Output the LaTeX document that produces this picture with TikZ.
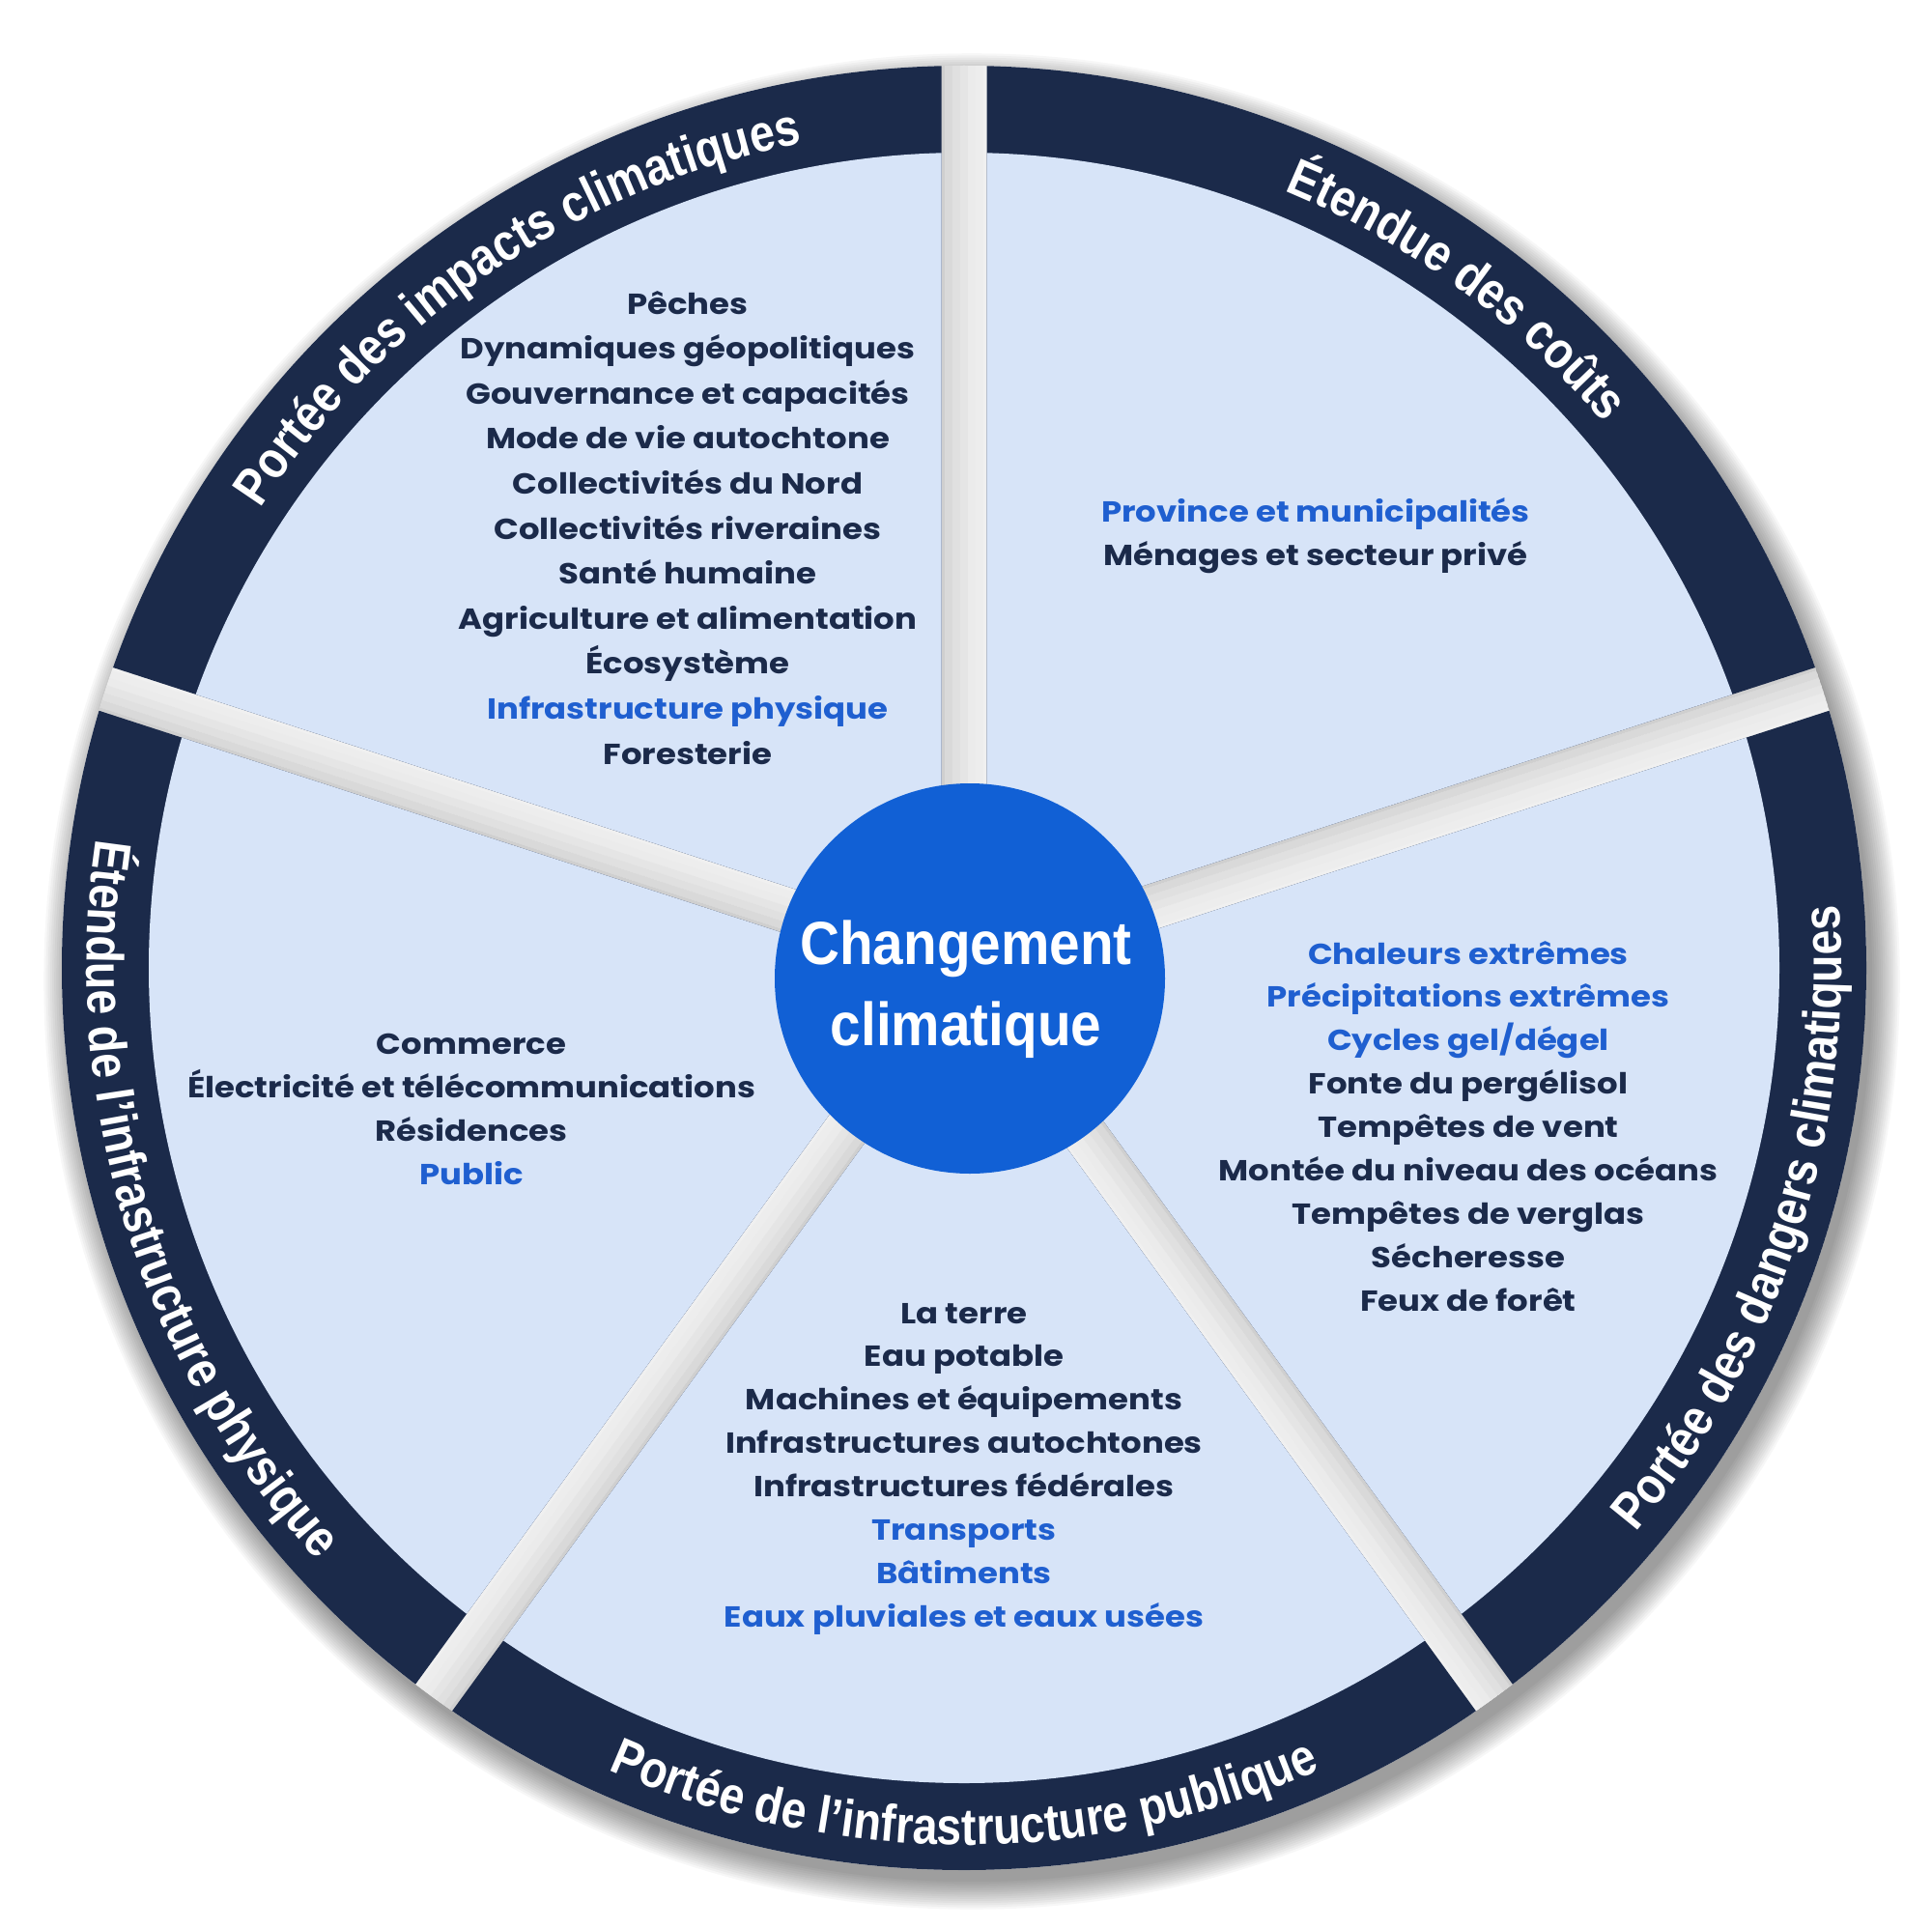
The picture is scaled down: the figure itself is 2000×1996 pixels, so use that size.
\documentclass[tikz,border=0pt]{standalone}
\usepackage{fontspec}
\usetikzlibrary{decorations.text}
\newfontfamily\itemfont{Poppins}[FakeStretch=1.13]
\newfontfamily\condfont{Liberation Sans}[FakeStretch=0.9]
\newfontfamily\lblfont{Liberation Sans}[FakeStretch=0.86]
\definecolor{cband}{HTML}{1B2A4A}
\definecolor{cwedge}{HTML}{D7E4F8}
\definecolor{ccore}{HTML}{1160D5}
\definecolor{cink}{HTML}{1B2A4A}
\definecolor{caccent}{HTML}{1F5FD0}
\newcommand\labelfmt{\lblfont\bfseries\fontsize{54}{54}\selectfont}
\begin{document}
\begin{tikzpicture}[x=1pt,y=1pt,
  item/.style={font=\itemfont\bfseries\fontsize{30}{35}\selectfont, text=cink, anchor=base, inner sep=0pt},
  hl/.style={item, text=caccent},
  lbl/.style={decorate, decoration={text along path, text={|\labelfmt|#1}, text align=center, text color=white}},
  coretext/.style={font=\condfont\bfseries\fontsize{63}{70}\selectfont, text=white, anchor=base, inner sep=0pt}]
\fill[white] (0,0) rectangle (2000,-1996);
\useasboundingbox (0,0) rectangle (2000,-1996);
\begin{scope}[shift={(998,-1002)}]
  % soft shadow
  \foreach \i in {1,...,14} \fill[black,opacity=0.03] (8,-14) circle ({930+2.2*\i});
  % base disc and gaps
  \begin{scope}
    \clip (0,0) circle (934);
    \fill[black!6] (0,0) circle (934);
    \foreach \g in {90,18,-54,-126,162}{
      \foreach \o/\c in {-28/6,-20/7,-12/8,-4/10,4/12,12/15,20/19}{
        \fill[black!\c, rotate=\g] (0,\o) rectangle (960,\o+8);
      }
    }
  \end{scope}
  % dark bands
  \begin{scope}
    \clip (0,0) circle (934);
    \foreach \a in {54,-18,-90,-162,126}{
      \fill[cband] (\a:40) -- ++({\a-36}:1300) arc[start angle={\a-36}, end angle={\a+36}, radius=1300] -- cycle;
    }
  \end{scope}
  % light wedges
  \begin{scope}
    \clip (0,0) circle (844);
    \foreach \a in {54,-18,-90,-162,126}{
      \fill[cwedge] (\a:40) -- ++({\a-36}:1300) arc[start angle={\a-36}, end angle={\a+36}, radius=1300] -- cycle;
    }
  \end{scope}
  % curved labels
  \begin{scope}
  \labelfmt
  \path[lbl={Portée des impacts climatiques}] (164:870) arc[start angle=164, end angle=84, radius=870];
  \path[lbl={Étendue des coûts}] (94:870) arc[start angle=94, end angle=14, radius=870];
  \path[lbl={Portée des dangers climatiques}] (-58:908) arc[start angle=-58, end angle=22, radius=908];
  \path[lbl={Portée de l’infrastructure publique}] (-130:908) arc[start angle=-130, end angle=-50, radius=908];
  \path[lbl={Étendue de l’infrastructure physique}] (157:908) arc[start angle=157, end angle=237, radius=908];
  \end{scope}
\end{scope}
% centre
\node[circle, fill=ccore, minimum size=404pt, inner sep=0pt] (core) at (1004,-1013) {};
\node[coretext] (core1) at (1000,-998) {Changement};
\node[coretext] (core2) at (1000,-1082) {climatique};
% top-left list
\node[item] (tl1) at (712,-325) {Pêches};
\node[item] (tl2) at (712,-371.6) {Dynamiques géopolitiques};
\node[item] (tl3) at (712,-418.2) {Gouvernance et capacités};
\node[item] (tl4) at (712,-464.8) {Mode de vie autochtone};
\node[item] (tl5) at (712,-511.4) {Collectivités du Nord};
\node[item] (tl6) at (712,-558) {Collectivités riveraines};
\node[item] (tl7) at (712,-604.6) {Santé humaine};
\node[item] (tl8) at (712,-651.2) {Agriculture et alimentation};
\node[item] (tl9) at (712,-697.8) {Écosystème};
\node[hl] (tl10) at (712,-744.4) {Infrastructure physique};
\node[item] (tl11) at (712,-791) {Foresterie};
% top-right list
\node[hl] (tr1) at (1362,-540) {Province et municipalités};
\node[item] (tr2) at (1362,-585) {Ménages et secteur privé};
% right list
\node[hl] (rt1) at (1520,-998) {Chaleurs extrêmes};
\node[hl] (rt2) at (1520,-1042.9) {Précipitations extrêmes};
\node[hl] (rt3) at (1520,-1087.8) {Cycles gel/dégel};
\node[item] (rt4) at (1520,-1132.7) {Fonte du pergélisol};
\node[item] (rt5) at (1520,-1177.6) {Tempêtes de vent};
\node[item] (rt6) at (1520,-1222.5) {Montée du niveau des océans};
\node[item] (rt7) at (1520,-1267.4) {Tempêtes de verglas};
\node[item] (rt8) at (1520,-1312.3) {Sécheresse};
\node[item] (rt9) at (1520,-1357.2) {Feux de forêt};
% bottom list
\node[item] (bt1) at (998,-1370) {La terre};
\node[item] (bt2) at (998,-1414.9) {Eau potable};
\node[item] (bt3) at (998,-1459.8) {Machines et équipements};
\node[item] (bt4) at (998,-1504.7) {Infrastructures autochtones};
\node[item] (bt5) at (998,-1549.6) {Infrastructures fédérales};
\node[hl] (bt6) at (998,-1594.5) {Transports};
\node[hl] (bt7) at (998,-1639.4) {Bâtiments};
\node[hl] (bt8) at (998,-1684.3) {Eaux pluviales et eaux usées};
% left list
\node[item] (lf1) at (488,-1091) {Commerce};
\node[item] (lf2) at (488,-1136) {Électricité et télécommunications};
\node[item] (lf3) at (488,-1181) {Résidences};
\node[hl] (lf4) at (488,-1226) {Public};
\end{tikzpicture}
\end{document}
